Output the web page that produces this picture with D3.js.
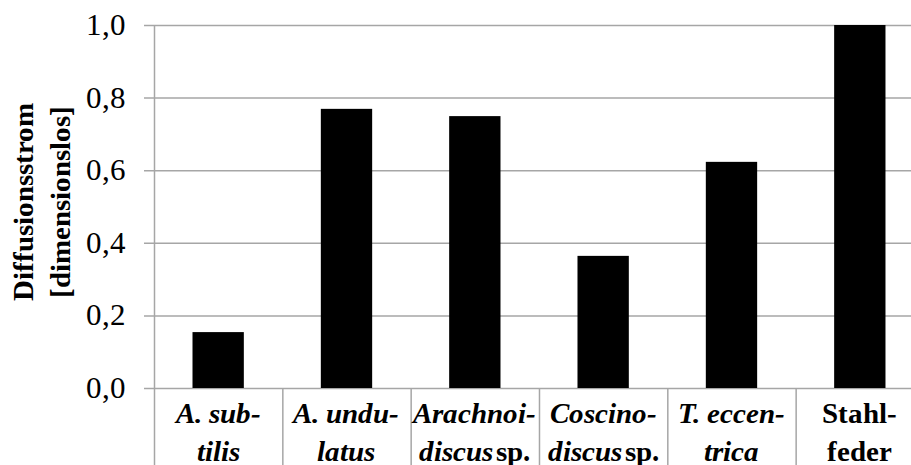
<html>
<head>
  <meta charset="utf-8">
  <script src="https://d3js.org/d3.v7.min.js"></script>
  <style>
    @font-face { font-family: "ChartSerif"; font-weight: normal; font-style: normal;
      src: local("Liberation Serif"), local("LiberationSerif"), local("Tinos"), local("Times New Roman"); }
    @font-face { font-family: "ChartSerif"; font-weight: bold; font-style: normal;
      src: local("Liberation Serif Bold"), local("LiberationSerif-Bold"), local("Tinos Bold"), local("Times New Roman Bold"); }
    @font-face { font-family: "ChartSerif"; font-weight: bold; font-style: italic;
      src: local("Liberation Serif Bold Italic"), local("LiberationSerif-BoldItalic"), local("Tinos Bold Italic"), local("Times New Roman Bold Italic"); }
  </style>
</head>
<body style="margin:0">
<script>
var width = 911, height = 465;

// data
var categories = ["A. subtilis", "A. undulatus", "Arachnoidiscus sp.", "Coscinodiscus sp.", "T. eccentrica", "Stahlfeder"];
var values = [0.154, 0.769, 0.749, 0.364, 0.623, 1.0];
var labelLine1 = ["A. sub-", "A. undu-", "Arachnoi-", "Coscino-", "T. eccen-", "Stahl-"];
var labelLine2 = ["tilis", "latus", "discus sp.", "discus sp.", "trica", "feder"];
var labelItalic = [true, true, true, true, true, false];
var yTicks = [0, 0.2, 0.4, 0.6, 0.8, 1.0];
var yTitle = ["Diffusionsstrom", "[dimensionslos]"];

var plotLeft = 154, plotTop = 25, plotBottom = 388;
var step = 128.33;
var fontFam = "ChartSerif, 'Liberation Serif', Tinos, Times, serif";

var svg = d3.select("body").append("svg")
  .attr("width", width).attr("height", height)
  .style("display", "block");

var x = d3.scaleBand()
  .domain(categories)
  .range([plotLeft, plotLeft + step * categories.length])
  .padding(0);

var y = d3.scaleLinear()
  .domain([0, 1])
  .range([plotBottom, plotTop]);

// grid lines
svg.append("g")
  .selectAll("line")
  .data(yTicks)
  .join("line")
  .attr("x1", plotLeft - 10).attr("x2", width)
  .attr("y1", function(d){ return y(d) + 0.5; })
  .attr("y2", function(d){ return y(d) + 0.5; })
  .attr("stroke", "#a6a6a6").attr("stroke-width", 1.5);

// y axis line
svg.append("line")
  .attr("x1", plotLeft + 0.5).attr("x2", plotLeft + 0.5)
  .attr("y1", plotTop).attr("y2", height)
  .attr("stroke", "#a6a6a6").attr("stroke-width", 1.5);

// category separators
svg.append("g")
  .selectAll("line")
  .data(categories.slice(1))
  .join("line")
  .attr("x1", function(d){ return x(d) + 0.5; })
  .attr("x2", function(d){ return x(d) + 0.5; })
  .attr("y1", plotBottom).attr("y2", height)
  .attr("stroke", "#a6a6a6").attr("stroke-width", 1.5);

// bars
var bw = x.bandwidth() * 0.4;
svg.append("g")
  .selectAll("rect")
  .data(values)
  .join("rect")
  .attr("x", function(d, i){ return x(categories[i]) + (x.bandwidth() - bw) / 2; })
  .attr("width", bw)
  .attr("y", function(d){ return y(d); })
  .attr("height", function(d){ return y(0) - y(d); })
  .attr("fill", "#000");

// y tick labels
svg.append("g")
  .selectAll("text")
  .data(yTicks)
  .join("text")
  .attr("x", 126)
  .attr("y", function(d){ return y(d) + 10; })
  .attr("text-anchor", "end")
  .style("font-family", fontFam)
  .style("font-size", "31px")
  .attr("fill", "#000")
  .text(function(d){ return d3.format(".1f")(d).replace(".", ","); });

// y title
var yt = svg.append("g")
  .attr("transform", "translate(0," + ((plotTop + plotBottom) / 2 - 5) + ") rotate(-90)");
yt.selectAll("text")
  .data(yTitle)
  .join("text")
  .attr("x", 0)
  .attr("y", function(d, i){ return 33 + i * 37; })
  .attr("text-anchor", "middle")
  .style("font-family", fontFam)
  .style("font-size", "29px")
  .style("font-weight", "bold")
  .text(function(d){ return d; });

// category labels
function addLine(g, txt, yy, italic) {
  var t = g.append("text")
    .attr("x", 0).attr("y", yy)
    .attr("text-anchor", "middle")
    .style("font-family", fontFam)
    .style("font-size", "29px")
    .style("font-weight", "bold");
  var m = txt.match(/^(.*) (sp\.)$/);
  if (m) {
    t.append("tspan").style("font-style", "italic").text(m[1]);
    t.append("tspan").attr("dx", 3).text(m[2]);
  } else {
    t.style("font-style", italic ? "italic" : "normal").text(txt);
  }
}
categories.forEach(function(c, i){
  var g = svg.append("g")
    .attr("transform", "translate(" + (x(c) + x.bandwidth() / 2) + ",0)");
  addLine(g, labelLine1[i], 423, labelItalic[i]);
  addLine(g, labelLine2[i], 461, labelItalic[i]);
});
</script>
</body>
</html>
